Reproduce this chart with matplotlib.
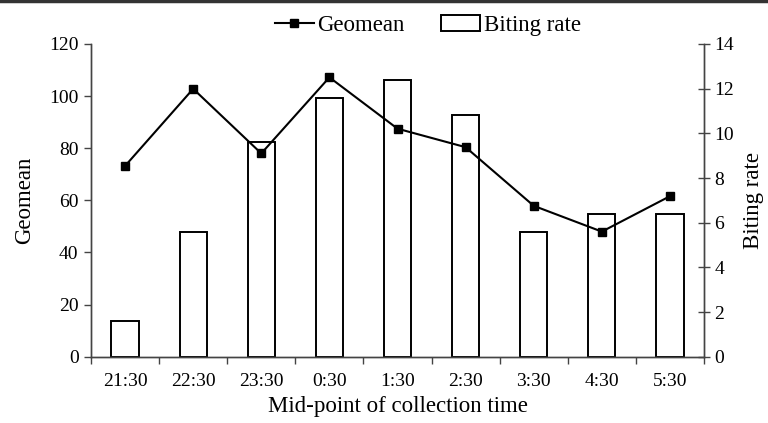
import matplotlib
matplotlib.use("Agg")
import matplotlib.pyplot as plt
from matplotlib.lines import Line2D
import numpy as np

times = ["21:30", "22:30", "23:30", "0:30", "1:30", "2:30", "3:30", "4:30", "5:30"]
geomean = [73.2, 102.8, 78.0, 107.2, 87.5, 80.4, 57.9, 48.0, 61.6]
biting_rate = [1.6, 5.6, 9.6, 11.6, 12.4, 10.8, 5.6, 6.4, 6.4]

plt.rcParams["font.family"] = ["Liberation Serif", "DejaVu Serif"]

fig = plt.figure(figsize=(7.68, 4.23), dpi=100)
ax = fig.add_axes([0.1185, 0.1567, 0.9167 - 0.1185, 0.896 - 0.1567])
ax2 = ax.twinx()

x = np.arange(len(times))
bars = ax2.bar(x, biting_rate, width=0.4, color="white", edgecolor="black",
               linewidth=1.4, label="Biting rate")
line, = ax.plot(x, geomean, color="black", marker="s", markersize=5.5,
                linewidth=1.5, label="Geomean")

ax.set_zorder(ax2.get_zorder() + 1)
ax.patch.set_visible(False)

ax.set_xlim(-0.5, len(times) - 0.5)
ax.set_ylim(0, 120)
ax2.set_ylim(0, 14)
ax.set_yticks(range(0, 121, 20))
ax2.set_yticks(range(0, 15, 2))

# ticks between categories, labels centred
ax.set_xticks(np.arange(-0.5, len(times), 1.0))
ax.set_xticklabels([])
ax.set_xticks(x, minor=True)
ax.set_xticklabels(times, minor=True)
ax.tick_params(axis="x", which="minor", length=0, pad=12, labelsize=14)
ax.tick_params(axis="x", which="major", length=5, width=1, color="#444444")
ax.tick_params(axis="y", labelsize=14, length=5, width=1, color="#444444", pad=4)
ax2.tick_params(axis="y", labelsize=14, length=9, width=1, color="#444444",
                direction="inout", pad=3)

for a in (ax, ax2):
    a.spines["top"].set_visible(False)
    for s in ("left", "right", "bottom"):
        a.spines[s].set_color("#444444")
        a.spines[s].set_linewidth(1)

ax.set_xlabel("Mid-point of collection time", fontsize=16.5, labelpad=4)
ax.set_ylabel("Geomean", fontsize=16.5, labelpad=10)
ax2.set_ylabel("Biting rate", fontsize=16.5, labelpad=6)

fig.legend([line, bars], ["Geomean", "Biting rate"], loc="center",
           bbox_to_anchor=(0.557, 0.94), ncol=2, frameon=False,
           fontsize=16.5, handlelength=1.7, handletextpad=0.15, columnspacing=1.6)

# thin frame line along the top edge
fig.add_artist(Line2D([0, 1], [0.997, 0.997], color="#333333", linewidth=2.5,
                      transform=fig.transFigure))

fig.savefig("out.png", dpi=100)
